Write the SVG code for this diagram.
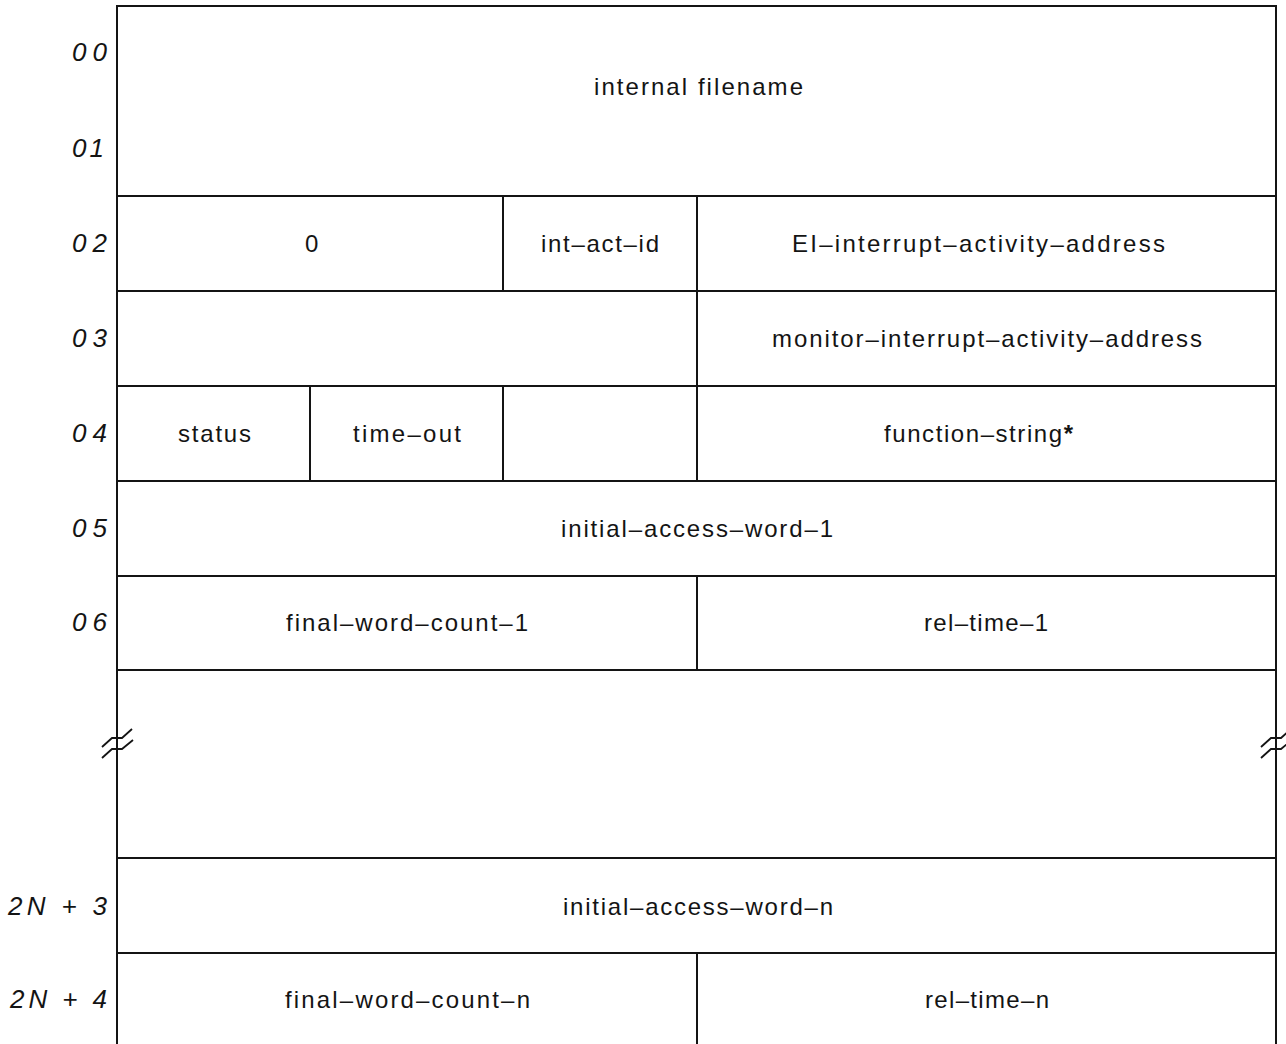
<svg xmlns="http://www.w3.org/2000/svg" width="1286" height="1044" viewBox="0 0 1286 1044">
  <style>
    .ln { stroke: #141414; stroke-width: 2; fill: none; stroke-linecap: square; }
    .brk { stroke: #141414; stroke-width: 1.8; fill: none; stroke-linejoin: miter; }
    .f { font-family: "Liberation Sans", Arial, sans-serif; font-size: 24px; fill: #141414; }
    .w { font-family: "Liberation Sans", Arial, sans-serif; font-size: 26px; font-style: italic; fill: #141414; text-anchor: end; }
    .star { font-weight: bold; }
  </style>
  <defs>
    <!-- double "cut" mark used on both side rails -->
    <g id="cut">
      <polyline class="brk" points="-15,9 -5,0 5,0 15,-9"/>
      <polyline class="brk" points="-15,20 -5,11 5,11 16,2"/>
    </g>
  </defs>
  <rect width="1286" height="1044" fill="#ffffff"/>

  <!-- outer rails and row separators -->
  <g id="frame">
    <line class="ln" x1="117" y1="6" x2="1276" y2="6"/>
    <line class="ln" x1="117" y1="6" x2="117" y2="1044"/>
    <line class="ln" x1="1276" y1="6" x2="1276" y2="1044"/>
    <line class="ln" x1="117" y1="196" x2="1276" y2="196"/>
    <line class="ln" x1="117" y1="291" x2="1276" y2="291"/>
    <line class="ln" x1="117" y1="386" x2="1276" y2="386"/>
    <line class="ln" x1="117" y1="481" x2="1276" y2="481"/>
    <line class="ln" x1="117" y1="576" x2="1276" y2="576"/>
    <line class="ln" x1="117" y1="670" x2="1276" y2="670"/>
    <line class="ln" x1="117" y1="858" x2="1276" y2="858"/>
    <line class="ln" x1="117" y1="953" x2="1276" y2="953"/>
  </g>

  <!-- field dividers inside the words -->
  <g id="connectors">
    <line class="ln" x1="697" y1="196" x2="697" y2="481"/>
    <line class="ln" x1="503" y1="196" x2="503" y2="291"/>
    <line class="ln" x1="503" y1="386" x2="503" y2="481"/>
    <line class="ln" x1="310" y1="386" x2="310" y2="481"/>
    <line class="ln" x1="697" y1="576" x2="697" y2="670"/>
    <line class="ln" x1="697" y1="953" x2="697" y2="1044"/>
    <use href="#cut" x="117" y="738"/>
    <use href="#cut" x="1276" y="738"/>
  </g>

  <!-- word offsets -->
  <g id="offsets">
    <text class="w" x="107" y="61" textLength="35" lengthAdjust="spacing">00</text>
    <text class="w" x="104" y="157" textLength="32" lengthAdjust="spacing">01</text>
    <text class="w" x="107" y="252" textLength="35" lengthAdjust="spacing">02</text>
    <text class="w" x="107" y="347" textLength="35" lengthAdjust="spacing">03</text>
    <text class="w" x="107" y="442" textLength="35" lengthAdjust="spacing">04</text>
    <text class="w" x="107" y="537" textLength="35" lengthAdjust="spacing">05</text>
    <text class="w" x="107" y="631" textLength="35" lengthAdjust="spacing">06</text>
    <text class="w" x="107" y="915" textLength="99" lengthAdjust="spacing">2N + 3</text>
    <text class="w" x="107" y="1008" textLength="97" lengthAdjust="spacing">2N + 4</text>
  </g>

  <g id="w00-01"><text class="f" x="594" y="95" textLength="209" lengthAdjust="spacing">internal filename</text></g>
  <g id="w02-zero"><text class="f" x="305" y="252">0</text></g>
  <g id="w02-intactid"><text class="f" x="541" y="252" textLength="118" lengthAdjust="spacing">int–act–id</text></g>
  <g id="w02-eiaddr"><text class="f" x="792" y="252" textLength="373" lengthAdjust="spacing">EI–interrupt–activity–address</text></g>
  <g id="w03-monaddr"><text class="f" x="772" y="347" textLength="430" lengthAdjust="spacing">monitor–interrupt–activity–address</text></g>
  <g id="w04-status"><text class="f" x="178" y="442" textLength="73" lengthAdjust="spacing">status</text></g>
  <g id="w04-timeout"><text class="f" x="353" y="442" textLength="108" lengthAdjust="spacing">time–out</text></g>
  <g id="w04-funcstr"><text class="f" x="884" y="442" textLength="189" lengthAdjust="spacing">function–string<tspan class="star">*</tspan></text></g>
  <g id="w05-iaw1"><text class="f" x="561" y="537" textLength="272" lengthAdjust="spacing">initial–access–word–1</text></g>
  <g id="w06-fwc1"><text class="f" x="286" y="631" textLength="242" lengthAdjust="spacing">final–word–count–1</text></g>
  <g id="w06-rt1"><text class="f" x="924" y="631" textLength="124" lengthAdjust="spacing">rel–time–1</text></g>
  <g id="w2n3-iawn"><text class="f" x="563" y="915" textLength="270" lengthAdjust="spacing">initial–access–word–n</text></g>
  <g id="w2n4-fwcn"><text class="f" x="285" y="1008" textLength="245" lengthAdjust="spacing">final–word–count–n</text></g>
  <g id="w2n4-rtn"><text class="f" x="925" y="1008" textLength="124" lengthAdjust="spacing">rel–time–n</text></g>
</svg>
